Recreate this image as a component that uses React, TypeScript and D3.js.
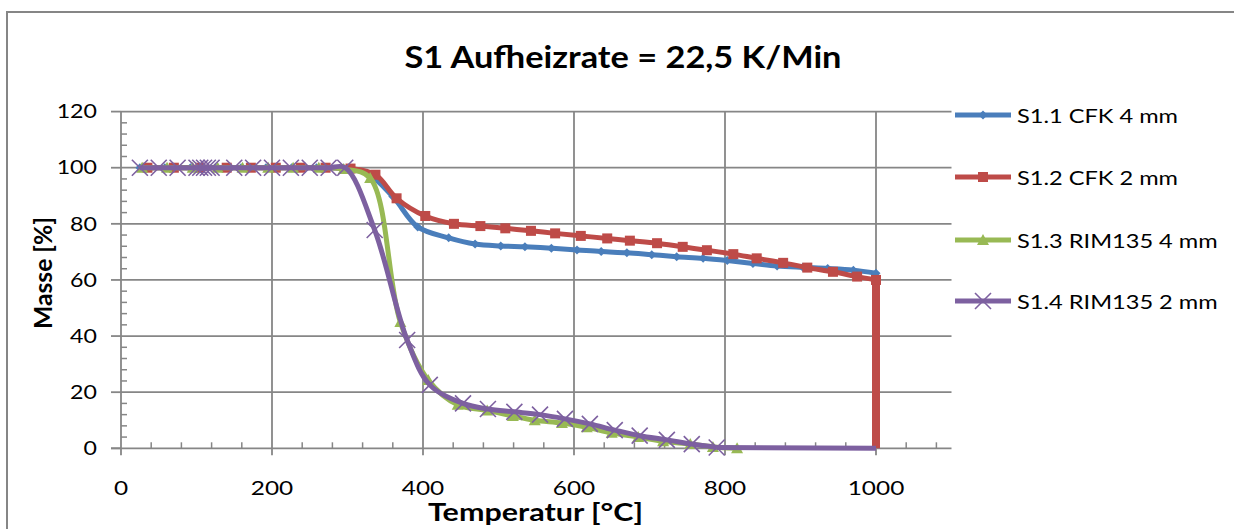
import * as d3 from 'd3';

// Temperatur [°C] / Masse [%]
const blueT = [25, 58, 92, 125, 159, 192, 226, 259, 293, 326, 360, 393, 434, 469, 503, 535, 570, 604, 636, 670, 703, 736, 771, 803, 837, 869, 903, 936, 970, 1000];
const blueM = [100, 100, 100, 100, 100, 100, 100, 100, 99.8, 98, 89.7, 78.9, 75.0, 72.8, 72.1, 71.8, 71.3, 70.7, 70.1, 69.7, 69.0, 68.3, 67.7, 66.9, 65.9, 65.0, 64.5, 64.1, 63.5, 62.4];
const blueDropT = [1000];
const blueDropM = [54];

const redT = [35, 70, 105, 140, 172, 205, 238, 271, 304, 337, 365, 403, 441, 476, 509, 543, 575, 609, 644, 674, 710, 744, 776, 811, 842, 877, 909, 943, 975, 1000];
const redM = [100, 100, 100, 100, 100, 100, 100, 100, 99.7, 97.5, 89.1, 82.8, 80.0, 79.2, 78.4, 77.5, 76.6, 75.7, 74.8, 74.0, 73.1, 71.8, 70.6, 69.2, 67.7, 66.1, 64.4, 62.9, 61.2, 60.0];
const redDropT = [1000];
const redDropM = [0];

const greenT = [28, 61, 95, 128, 161, 195, 228, 262, 295, 330, 370, 407, 446, 485, 519, 548, 584, 617, 650, 685, 718, 754, 784, 816];
const greenM = [100, 100, 100, 100, 100, 100, 100, 100, 99.5, 96.3, 45, 24.3, 15.5, 13.5, 11.5, 10, 9, 7.5, 5.5, 4, 2.5, 1.5, 0.5, 0];
const greenDropT: number[] = [];
const greenDropM: number[] = [];

const purpleT = [25, 50, 75, 100, 105, 110, 115, 120, 150, 175, 200, 225, 250, 275, 297, 336, 379, 409, 453, 486, 521, 555, 588, 621, 654, 687, 723, 756, 789];
const purpleM = [100, 100, 100, 100, 100, 100, 100, 100, 100, 100, 100, 100, 100, 100, 100, 77.8, 38.6, 22.6, 16, 14, 13, 12, 10.5, 8.7, 6.5, 4.5, 3, 1.5, 0.3];
const purpleDropT = [1000];
const purpleDropM = [0];

const seriesNames = ['S1.1 CFK 4 mm', 'S1.2 CFK 2 mm', 'S1.3 RIM135 4 mm', 'S1.4 RIM135 2 mm'];
const xTicks = [0, 200, 400, 600, 800, 1000];
const yTicks = [0, 20, 40, 60, 80, 100, 120];

const W = 1234;
const H = 529;
const FONT = 'Lato, "Open Sans", sans-serif';
const GRID = '#868686';

const x = d3.scaleLinear().domain([0, 1100]).range([121, 951.5]);
const y = d3.scaleLinear().domain([0, 120]).range([448.3, 111.6]);

const zip = (t: number[], m: number[]) => t.map((v, i) => [v, m[i]] as [number, number]);

const series = [
  { name: seriesNames[0], color: '#4A7EBB', pts: zip(blueT, blueM), drop: zip(blueDropT, blueDropM), marker: 'diamond', dropW: 5 },
  { name: seriesNames[1], color: '#BE4B48', pts: zip(redT, redM), drop: zip(redDropT, redDropM), marker: 'square', dropW: 8 },
  { name: seriesNames[2], color: '#98B954', pts: zip(greenT, greenM), drop: zip(greenDropT, greenDropM), marker: 'triangle', dropW: 5 },
  { name: seriesNames[3], color: '#7D60A0', pts: zip(purpleT, purpleM), drop: zip(purpleDropT, purpleDropM), marker: 'x', dropW: 5 },
];

const smooth = d3.line<[number, number]>()
  .x(d => x(d[0]))
  .y(d => y(d[1]))
  .curve(d3.curveCatmullRom.alpha(0.5));

const straight = d3.line<[number, number]>()
  .x(d => x(d[0]))
  .y(d => y(d[1]));

function Marker({ type, cx, cy, color }: { type: string; cx: number; cy: number; color: string }) {
  if (type === 'diamond') {
    return <path d={`M${cx},${cy - 4.5}L${cx + 4.5},${cy}L${cx},${cy + 4.5}L${cx - 4.5},${cy}Z`} fill={color} />;
  }
  if (type === 'square') {
    return <rect x={cx - 5} y={cy - 5} width={10} height={10} fill={color} />;
  }
  if (type === 'triangle') {
    return <path d={`M${cx},${cy - 6}L${cx + 6},${cy + 5}L${cx - 6},${cy + 5}Z`} fill={color} />;
  }
  return (
    <path
      d={`M${cx - 8},${cy - 8}L${cx + 8},${cy + 8}M${cx + 8},${cy - 8}L${cx - 8},${cy + 8}`}
      stroke={color}
      strokeWidth={1.6}
      fill="none"
    />
  );
}

function SText({ tx, ty, sx = 1, rot = 0, children, ...rest }: any) {
  return (
    <text transform={`translate(${tx},${ty}) rotate(${rot}) scale(${sx},1)`} fontFamily={FONT} fill="#000" {...rest}>
      {children}
    </text>
  );
}

export default function App() {
  const yMinor = d3.range(0, 121, 4).filter(v => v % 20 !== 0);
  const xMinor = d3.range(0, 1101, 40).filter(v => v % 200 !== 0);
  const legendY = [115, 177, 240, 301];

  return (
    <svg width={W} height={H} style={{ position: 'absolute', left: 0, top: 0, background: '#fff' }}>
      <rect x={7} y={12} width={W + 20} height={H + 20} fill="#fff" stroke={GRID} strokeWidth={2} />

      {/* grid */}
      {yTicks.filter(v => v > 0).map(v => (
        <line key={'hg' + v} x1={x(0)} x2={x(1100)} y1={y(v)} y2={y(v)} stroke={GRID} strokeWidth={1.8} />
      ))}
      {xTicks.filter(v => v > 0).map(v => (
        <line key={'vg' + v} x1={x(v)} x2={x(v)} y1={y(120)} y2={y(0) + 7} stroke={GRID} strokeWidth={1.8} />
      ))}

      {/* axes */}
      <line x1={x(0)} x2={x(0)} y1={y(120)} y2={y(0) + 7} stroke={GRID} strokeWidth={1.8} />
      <line x1={x(0) - 10} x2={x(1100)} y1={y(0)} y2={y(0)} stroke={GRID} strokeWidth={1.8} />
      {yTicks.map(v => (
        <line key={'ym' + v} x1={x(0) - 10} x2={x(0)} y1={y(v)} y2={y(v)} stroke={GRID} strokeWidth={1.8} />
      ))}
      {yMinor.map(v => (
        <line key={'yn' + v} x1={x(0)} x2={x(0) + 6} y1={y(v)} y2={y(v)} stroke={GRID} strokeWidth={1.5} />
      ))}
      {xMinor.map(v => (
        <line key={'xn' + v} x1={x(v)} x2={x(v)} y1={y(0)} y2={y(0) - 6} stroke={GRID} strokeWidth={1.5} />
      ))}

      {/* series */}
      {series.map(s => (
        <g key={s.name}>
          <path d={smooth(s.pts) || ''} fill="none" stroke={s.color} strokeWidth={5} strokeLinejoin="round" />
          {s.drop.length > 0 && (
            <path d={straight([s.pts[s.pts.length - 1], ...s.drop]) || ''} fill="none" stroke={s.color} strokeWidth={s.dropW} />
          )}
          {s.pts.map((p, i) => (
            <Marker key={i} type={s.marker} cx={x(p[0])} cy={y(p[1])} color={s.color} />
          ))}
        </g>
      ))}

      {/* tick labels */}
      {yTicks.map(v => (
        <SText key={'yl' + v} tx={97} ty={y(v) + 6.7} sx={1.22} fontSize={19} textAnchor="end">{v}</SText>
      ))}
      {xTicks.map(v => (
        <SText key={'xl' + v} tx={x(v)} ty={495} sx={1.22} fontSize={20} textAnchor="middle">{v}</SText>
      ))}

      {/* titles */}
      <text x={623} y={68} fontFamily={FONT} fontWeight="bold" fontSize={30} textAnchor="middle"
        textLength={437} lengthAdjust="spacingAndGlyphs">S1 Aufheizrate = 22,5 K/Min</text>
      <text x={535.5} y={521} fontFamily={FONT} fontWeight="bold" fontSize={25} textAnchor="middle"
        textLength={215} lengthAdjust="spacingAndGlyphs">Temperatur [°C]</text>
      <text transform={`translate(52,273) rotate(-90)`} fontFamily={FONT} fontWeight="bold" fontSize={25}
        textAnchor="middle" textLength={112} lengthAdjust="spacingAndGlyphs">Masse [%]</text>

      {/* legend */}
      {series.map((s, i) => (
        <g key={'lg' + i}>
          <line x1={955} x2={1011} y1={legendY[i]} y2={legendY[i]} stroke={s.color} strokeWidth={5} />
          <Marker type={s.marker} cx={983} cy={legendY[i]} color={s.color} />
          <SText tx={1017} ty={legendY[i] + 7.5} sx={1.18} fontSize={20}>{s.name}</SText>
        </g>
      ))}
    </svg>
  );
}
